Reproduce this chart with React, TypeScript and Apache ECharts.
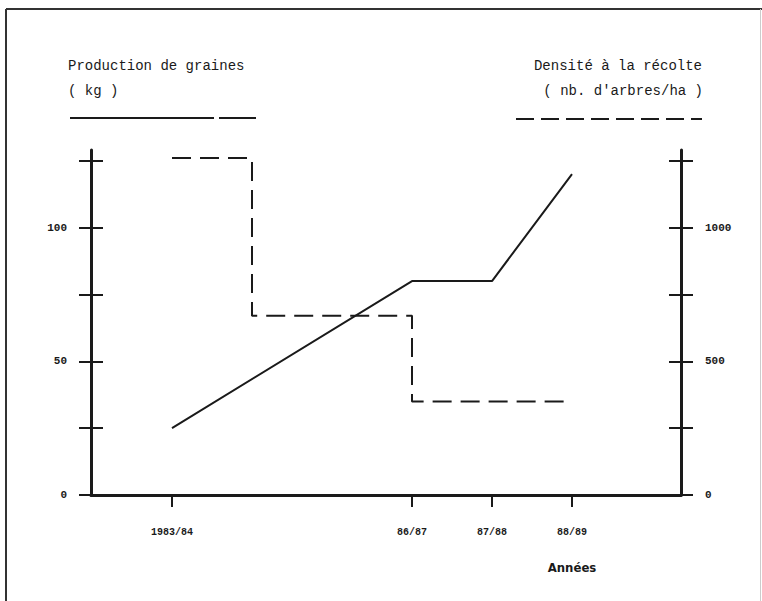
import React, { useEffect, useRef } from "react";
import * as echarts from "echarts";

// ---- data ----
const xTickValues = [1983, 1986, 1987, 1988];
const xTickLabels = ["1983/84", "86/87", "87/88", "88/89"];

// Production de graines (kg) — left axis, solid line
const productionYears = [1983, 1986, 1987, 1988];
const productionKg = [25, 80, 80, 120];

// Densité à la récolte (nb. d'arbres/ha) — right axis, dashed step line
const densityYears = [1983, 1984, 1986, 1988];
const densityTrees = [1260, 670, 350, 350];

const leftTicks = [0, 25, 50, 75, 100, 125];
const leftLabels = [0, 50, 100];
const rightTicks = [0, 250, 500, 750, 1000, 1250];
const rightLabels = [0, 500, 1000];

const INK = "#1a1a1a";
const MONO = "'Liberation Mono', 'DejaVu Sans Mono', monospace";

export default function App() {
  const ref = useRef<HTMLDivElement>(null);

  useEffect(() => {
    if (!ref.current) return;
    const chart = echarts.init(ref.current, undefined, { renderer: "svg" });

    const yBase = (pos: "left" | "right", max: number, ticks: number[], labels: number[], inside: boolean, main: boolean) => ({
      type: "value",
      position: pos,
      min: 0,
      max,
      splitLine: { show: false },
      axisLine: { show: main, onZero: false, lineStyle: { color: INK, width: 3 } },
      axisTick: {
        show: true,
        inside,
        length: 12,
        customValues: ticks,
        lineStyle: { color: INK, width: 2 },
      },
      axisLabel: {
        show: main,
        customValues: labels,
        formatter: (v: number) => String(v),
        margin: 24,
        color: INK,
        fontFamily: MONO,
        fontWeight: "bold",
        fontSize: 11,
      },
    });

    const tickLabelMap: Record<number, string> = {};
    xTickValues.forEach((v, i) => (tickLabelMap[v] = xTickLabels[i]));

    const option: any = {
      animation: false,
      backgroundColor: "#ffffff",
      grid: { left: 91, right: 81, top: 150, bottom: 106, containLabel: false },
      xAxis: {
        type: "value",
        min: 1981.9875,
        max: 1989.3625,
        splitLine: { show: false },
        axisLine: { show: true, onZero: false, lineStyle: { color: INK, width: 3 } },
        axisTick: { show: true, length: 12, customValues: xTickValues, lineStyle: { color: INK, width: 2 } },
        axisLabel: {
          customValues: xTickValues,
          formatter: (v: number) => tickLabelMap[v] ?? "",
          margin: 32,
          color: INK,
          fontFamily: MONO,
          fontWeight: "bold",
          fontSize: 10,
        },
      },
      yAxis: [
        yBase("left", 129, leftTicks, leftLabels, false, true),
        yBase("left", 129, leftTicks, leftLabels, true, false),
        yBase("right", 1290, rightTicks, rightLabels, false, true),
        yBase("right", 1290, rightTicks, rightLabels, true, false),
      ],
      series: [
        {
          name: "Production de graines",
          type: "line",
          yAxisIndex: 0,
          symbol: "none",
          data: productionYears.map((y, i) => [y, productionKg[i]]),
          lineStyle: { color: INK, width: 2 },
        },
        {
          name: "Densité à la récolte",
          type: "line",
          yAxisIndex: 2,
          symbol: "none",
          step: "end",
          data: densityYears.map((y, i) => [y, densityTrees[i]]),
          lineStyle: { color: INK, width: 2, type: [19, 9] },
        },
      ],
      graphic: [
        // frame
        { type: "line", shape: { x1: 6, y1: 9, x2: 762, y2: 9 }, style: { stroke: "#333", lineWidth: 2 } },
        { type: "line", shape: { x1: 6, y1: 9, x2: 6, y2: 601 }, style: { stroke: "#333", lineWidth: 2 } },
        { type: "line", shape: { x1: 760.5, y1: 9, x2: 760.5, y2: 601 }, style: { stroke: "#ccc", lineWidth: 1 } },
        // left title
        { type: "text", x: 68, y: 66, style: { text: "Production de graines", fill: INK, font: `14px ${MONO}`, textVerticalAlign: "middle" } },
        { type: "text", x: 68, y: 91, style: { text: "( kg )", fill: INK, font: `14px ${MONO}`, textVerticalAlign: "middle" } },
        { type: "line", shape: { x1: 70, y1: 118, x2: 214, y2: 118 }, style: { stroke: INK, lineWidth: 2 } },
        { type: "line", shape: { x1: 219, y1: 118, x2: 256, y2: 118 }, style: { stroke: INK, lineWidth: 2 } },
        // right title
        { type: "text", x: 702, y: 66, style: { text: "Densité à la récolte", fill: INK, font: `14px ${MONO}`, textAlign: "right", textVerticalAlign: "middle" } },
        { type: "text", x: 703, y: 91, style: { text: "( nb. d'arbres/ha )", fill: INK, font: `14px ${MONO}`, textAlign: "right", textVerticalAlign: "middle" } },
        { type: "line", shape: { x1: 516, y1: 119, x2: 702, y2: 119 }, style: { stroke: INK, lineWidth: 2, lineDash: [18, 7] } },
        // axis name
        { type: "text", x: 572, y: 567, style: { text: "Années", fill: INK, font: `bold 13px 'DejaVu Sans Condensed', 'DejaVu Sans', sans-serif`, textAlign: "center", textVerticalAlign: "middle" } },
      ],
    };

    chart.setOption(option);
    return () => chart.dispose();
  }, []);

  return (
    <div
      ref={ref}
      style={{ position: "fixed", left: 0, top: 0, width: 762, height: 601, background: "#fff" }}
    />
  );
}
